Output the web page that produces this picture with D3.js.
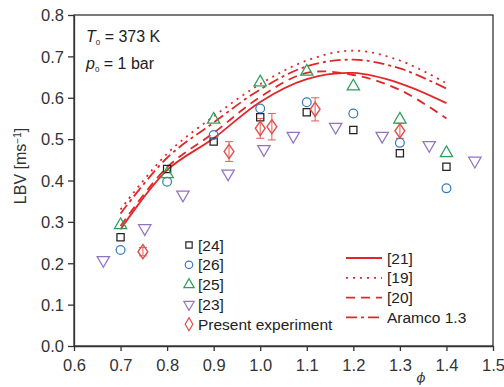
<!DOCTYPE html>
<html>
<head>
<meta charset="utf-8">
<script src="https://cdn.jsdelivr.net/npm/d3@7"></script>
<style>
  body { margin: 0; background: #fff; }
  svg { font-family: "Liberation Sans", Arial, sans-serif; }
</style>
</head>
<body>
<svg id="chart" width="504" height="387"></svg>
<script>
// scatter data (phi, LBV)
const ref24 = [[0.70, 0.263], [0.80, 0.428], [0.90, 0.494], [1.00, 0.553], [1.10, 0.565], [1.20, 0.522], [1.30, 0.466], [1.40, 0.433]];
const ref26 = [[0.70, 0.232], [0.80, 0.397], [0.90, 0.510], [1.00, 0.574], [1.10, 0.589], [1.20, 0.562], [1.30, 0.491], [1.40, 0.381]];
const ref25 = [[0.70, 0.290], [0.80, 0.413], [0.90, 0.545], [1.00, 0.635], [1.10, 0.661], [1.20, 0.625], [1.30, 0.545], [1.40, 0.464]];
const ref23 = [[0.663, 0.210], [0.752, 0.287], [0.834, 0.368], [0.931, 0.419], [1.008, 0.478], [1.071, 0.510], [1.162, 0.532], [1.262, 0.510], [1.363, 0.488], [1.461, 0.450]];
// present experiment: phi, LBV, error
const present = [[0.748, 0.228, 0.010], [0.933, 0.470, 0.024], [1.000, 0.526, 0.024], [1.025, 0.530, 0.032], [1.118, 0.572, 0.028], [1.300, 0.520, 0.018]];

// model curves
const phiCurve = [0.70, 0.80, 0.90, 1.00, 1.10, 1.20, 1.30, 1.40];
const curve21 = [0.282, 0.425, 0.502, 0.590, 0.645, 0.660, 0.635, 0.587];
const curve19 = [0.330, 0.465, 0.555, 0.633, 0.690, 0.714, 0.690, 0.635];
const curve20 = [0.290, 0.432, 0.515, 0.602, 0.660, 0.655, 0.619, 0.550];
const curveAramco = [0.320, 0.455, 0.540, 0.620, 0.676, 0.692, 0.671, 0.622];

const xTicks = [0.6, 0.7, 0.8, 0.9, 1.0, 1.1, 1.2, 1.3, 1.4, 1.5];
const yTicks = [0.0, 0.1, 0.2, 0.3, 0.4, 0.5, 0.6, 0.7, 0.8];

const svg = d3.select("#chart");
const margin = {left: 74, top: 15, right: 11, bottom: 41};
const width = 504 - margin.left - margin.right;
const height = 387 - margin.top - margin.bottom;

const x = d3.scaleLinear().domain([0.6, 1.5]).range([0, width]);
const y = d3.scaleLinear().domain([0, 0.8]).range([height, 0]);

const g = svg.append("g").attr("transform", `translate(${margin.left},${margin.top})`);

const RED = "#e0282a";

// frame
g.append("rect")
  .attr("width", width).attr("height", height)
  .attr("fill", "none").attr("stroke", "#333").attr("stroke-width", 1.3);

// axes
const xAxis = g.append("g").attr("transform", `translate(0,${height})`)
  .call(d3.axisBottom(x).tickValues(xTicks).tickFormat(d3.format(".1f")).tickSize(5).tickSizeOuter(0));
const yAxis = g.append("g")
  .call(d3.axisLeft(y).tickValues(yTicks).tickFormat(d3.format(".1f")).tickSize(6).tickSizeOuter(0));
[xAxis, yAxis].forEach(a => {
  a.select(".domain").attr("stroke", "#333").attr("stroke-width", 1.3);
  a.selectAll(".tick line").attr("stroke", "#333").attr("stroke-width", 1.3);
  a.selectAll("text").attr("fill", "#333").style("font-size", "16.5px")
    .style("font-family", "'Liberation Sans', Arial, sans-serif");
});
xAxis.selectAll("text").attr("dy", "1.05em");
yAxis.selectAll("text").attr("x", -10).attr("dy", "0.35em");

// axis titles
svg.append("text")
  .attr("transform", "translate(26,166) rotate(-90)")
  .attr("text-anchor", "middle")
  .attr("fill", "#333").style("font-size", "16px")
  .text("LBV [ms")
  .append("tspan").attr("baseline-shift", "super").style("font-size", "10px").text("−1")
  .select(function() { return this.parentNode; })
  .append("tspan").text("]");

svg.append("text")
  .attr("x", 421).attr("y", 382)
  .attr("text-anchor", "middle")
  .attr("fill", "#333").style("font-size", "13px").style("font-style", "italic")
  .style("font-family", "'DejaVu Serif', serif")
  .text("ϕ");

// conditions
const cond = [["T", " = 373 K", 42], ["p", " = 1 bar", 69]];
cond.forEach(c => {
  const t = svg.append("text").attr("x", 86).attr("y", c[2])
    .attr("fill", "#222").style("font-size", "16px");
  t.append("tspan").style("font-style", "italic").text(c[0]);
  t.append("tspan").attr("dy", 3).style("font-size", "8px").text("0");
  t.append("tspan").attr("dy", -3).text(c[1]);
});

// curves
const line = d3.line().x(d => x(d[0])).y(d => y(d[1])).curve(d3.curveCatmullRom);
const curves = [
  {vals: curve21, dash: null},
  {vals: curve19, dash: "2,5"},
  {vals: curve20, dash: "9,6"},
  {vals: curveAramco, dash: "11,4,3,4"}
];
curves.forEach(c => {
  g.append("path")
    .datum(phiCurve.map((p, i) => [p, c.vals[i]]))
    .attr("d", line)
    .attr("fill", "none")
    .attr("stroke", RED)
    .attr("stroke-width", 1.8)
    .attr("stroke-dasharray", c.dash);
});

// marker symbols
const sym = {
  square: d3.symbol().type(d3.symbolSquare).size(52),
  circle: d3.symbol().type(d3.symbolCircle).size(60),
  tri: d3.symbol().type(d3.symbolTriangle).size(66),
  diamond: d3.symbol().type(d3.symbolDiamond).size(58)
};
const series = [
  {data: ref24, sym: sym.square, color: "#222", rot: 0, dy: 0},
  {data: ref26, sym: sym.circle, color: "#3a7cc0", rot: 0, dy: 0},
  {data: ref25, sym: sym.tri, color: "#2e9e5a", rot: 0, dy: -1},
  {data: ref23, sym: sym.tri, color: "#9272c0", rot: 180, dy: 1}
];

// error bars of present experiment
const eb = g.append("g").attr("stroke", "#e06a66").attr("stroke-width", 1.1);
present.forEach(d => {
  eb.append("line").attr("x1", x(d[0])).attr("x2", x(d[0]))
    .attr("y1", y(d[1] + d[2])).attr("y2", y(d[1] - d[2]));
  [d[1] + d[2], d[1] - d[2]].forEach(v => {
    eb.append("line").attr("x1", x(d[0]) - 4).attr("x2", x(d[0]) + 4)
      .attr("y1", y(v)).attr("y2", y(v));
  });
});

series.forEach(s => {
  g.selectAll(null).data(s.data).enter().append("path")
    .attr("d", s.sym)
    .attr("transform", d => `translate(${x(d[0])},${y(d[1]) + s.dy}) rotate(${s.rot})`)
    .attr("fill", "none").attr("stroke", s.color).attr("stroke-width", 1.25);
});
g.selectAll(null).data(present).enter().append("path")
  .attr("d", sym.diamond)
  .attr("transform", d => `translate(${x(d[0])},${y(d[1])}) scale(1.2,1)`)
  .attr("fill", "none").attr("stroke", "#e0504c").attr("stroke-width", 1.25);

// legend: symbols
const legSym = svg.append("g");
const legItems = [
  {label: "[24]", sym: d3.symbol().type(d3.symbolSquare).size(40), color: "#222", rot: 0},
  {label: "[26]", sym: d3.symbol().type(d3.symbolCircle).size(44), color: "#3a7cc0", rot: 0},
  {label: "[25]", sym: d3.symbol().type(d3.symbolTriangle).size(46), color: "#2e9e5a", rot: 0},
  {label: "[23]", sym: d3.symbol().type(d3.symbolTriangle).size(46), color: "#9272c0", rot: 180},
  {label: "Present experiment", sym: d3.symbol().type(d3.symbolDiamond).size(50), color: "#e0504c", rot: 0}
];
legItems.forEach((it, i) => {
  const yy = 245 + i * 19.8;
  legSym.append("path").attr("d", it.sym)
    .attr("transform", `translate(189,${yy}) rotate(${it.rot})`)
    .attr("fill", "none").attr("stroke", it.color).attr("stroke-width", 1.2);
  legSym.append("text").attr("x", 198).attr("y", yy + 5.5)
    .attr("fill", "#222").style("font-size", "15.5px").text(it.label);
});

// legend: lines
const legLine = svg.append("g");
const lineItems = [
  {label: "[21]", dash: null},
  {label: "[19]", dash: "2,5"},
  {label: "[20]", dash: "9,6"},
  {label: "Aramco 1.3", dash: "11,4,3,4"}
];
lineItems.forEach((it, i) => {
  const yy = 258 + i * 19.8;
  legLine.append("line").attr("x1", 346).attr("x2", 382).attr("y1", yy).attr("y2", yy)
    .attr("stroke", RED).attr("stroke-width", 1.8).attr("stroke-dasharray", it.dash);
  legLine.append("text").attr("x", 387).attr("y", yy + 5.5)
    .attr("fill", "#222").style("font-size", "15.5px").text(it.label);
});
</script>
</body>
</html>
